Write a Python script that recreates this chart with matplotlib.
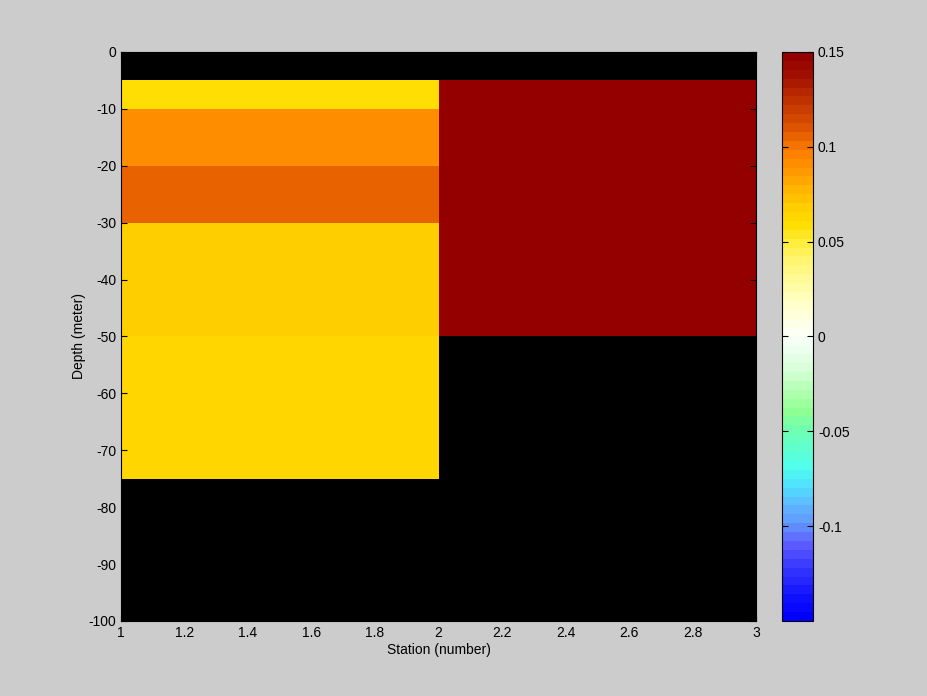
import numpy as np
import matplotlib
matplotlib.use('Agg')
import matplotlib.pyplot as plt
from matplotlib.colors import LinearSegmentedColormap

plt.rcParams['font.family'] = ['Liberation Sans', 'DejaVu Sans']
plt.rcParams['axes.unicode_minus'] = False

# data: depth layers per station
station_edges = [1, 2, 3]
depth_edges = [0, -5, -10, -20, -30, -50, -75, -100]
station1 = [np.nan, 0.058, 0.093, 0.105, 0.070, 0.064, np.nan]
station2 = [np.nan, 0.15, 0.15, 0.15, 0.15, np.nan, np.nan]

# custom 64-level colormap (blue - cyan - green - white - yellow - red)
anchor_vals = [-0.15, -0.14, -0.13, -0.12, -0.11, -0.10, -0.09, -0.08, -0.07, -0.06,
               -0.05, -0.04, -0.03, -0.02, -0.01, 0.0, 0.01, 0.02, 0.03, 0.04,
               0.05, 0.06, 0.07, 0.08, 0.09, 0.10, 0.11, 0.12, 0.13, 0.14, 0.15]
anchor_cols = ['#0000ff', '#1010ff', '#2828ff', '#4040ff', '#6060ff', '#6098ff', '#60b8ff',
               '#50e0ff', '#50ffee', '#60ffd0', '#70ffb0', '#90ff90', '#b0ffb0', '#d0ffd0',
               '#e8ffe8', '#fafffa', '#ffffe0', '#ffffc0', '#fffa9a', '#fff570', '#ffee40',
               '#ffdd00', '#ffcc00', '#ffb000', '#ff9400', '#fb7c00', '#e25800', '#cc4000',
               '#b82800', '#a01000', '#940000']
vmin, vmax = -0.15, 0.15
pos = [(v - vmin) / (vmax - vmin) for v in anchor_vals]
cmap = LinearSegmentedColormap.from_list('custom', list(zip(pos, anchor_cols)), N=64)

Z = np.ma.masked_invalid(np.array([station1, station2]).T)

fig = plt.figure(figsize=(9.28, 6.96), dpi=100, facecolor='#cccccc')
ax = fig.add_axes([0.1304, 0.1078, 0.6843, 0.8175])
ax.set_facecolor('black')
mesh = ax.pcolormesh(station_edges, depth_edges, Z, cmap=cmap, vmin=vmin, vmax=vmax)
ax.set_xlim(1, 3)
ax.set_ylim(-100, 0)
ax.set_xticks(np.arange(1, 3.01, 0.2))
ax.set_xticklabels(['1', '1.2', '1.4', '1.6', '1.8', '2', '2.2', '2.4', '2.6', '2.8', '3'])
ax.set_yticks(np.arange(-100, 1, 10))
ax.tick_params(direction='in', top=True, right=True, labelsize=10, length=4)
ax.set_xlabel('Station (number)', fontsize=10, labelpad=2)
ax.set_ylabel('Depth (meter)', fontsize=10, labelpad=2)

cax = fig.add_axes([0.8427, 0.1078, 0.0334, 0.8175])
cb = fig.colorbar(mesh, cax=cax)
cb.set_ticks([-0.1, -0.05, 0, 0.05, 0.1, 0.15])
cb.set_ticklabels(['-0.1', '-0.05', '0', '0.05', '0.1', '0.15'])
cax.tick_params(direction='in', left=True, right=True, labelsize=10, length=4)

fig.savefig('out.png', dpi=100, facecolor=fig.get_facecolor())
